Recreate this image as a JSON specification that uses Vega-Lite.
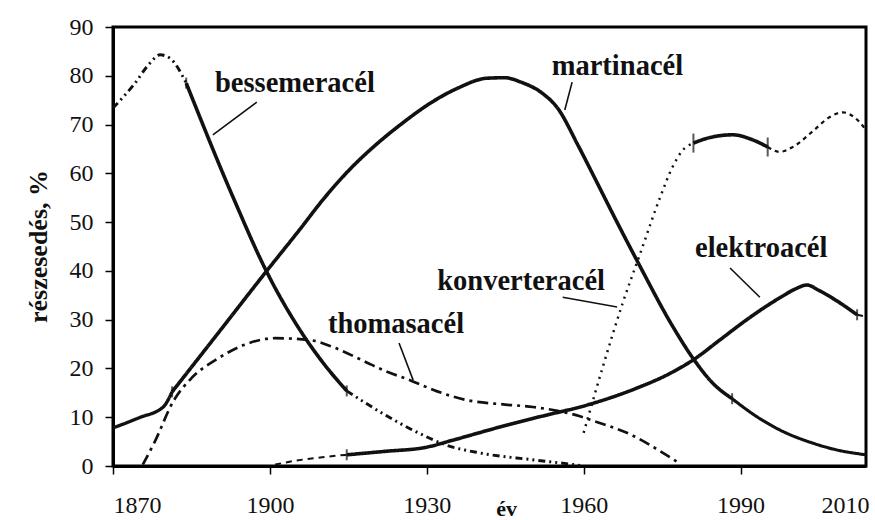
{
  "$schema": "https://vega.github.io/schema/vega-lite/v6.json",
  "autosize": "none",
  "width": 753,
  "height": 439,
  "padding": {"left": 113, "top": 27, "right": 9, "bottom": 54},
  "background": "white",
  "config": {
    "view": {"stroke": "black", "strokeWidth": 3},
    "font": "Liberation Serif",
    "axis": {"grid": false, "domainColor": "black", "domainWidth": 3, "tickColor": "black", "tickWidth": 1.5, "tickSize": 8, "labelFont": "Liberation Serif", "labelFontSize": 24, "labelColor": "#111", "titleFont": "Liberation Serif", "titleColor": "#111"}
  },
  "datasets": {
    "lines": [
      {"s": "bes1", "st": "dashdotdot", "x": 1870, "y": 73.4},
      {"s": "bes1", "st": "dashdotdot", "x": 1874, "y": 78.2},
      {"s": "bes1", "st": "dashdotdot", "x": 1877, "y": 82.5},
      {"s": "bes1", "st": "dashdotdot", "x": 1879, "y": 84.3},
      {"s": "bes1", "st": "dashdotdot", "x": 1881, "y": 83.5},
      {"s": "bes1", "st": "dashdotdot", "x": 1884, "y": 78.5},
      {"s": "bes2", "st": "thick", "x": 1884, "y": 78.5},
      {"s": "bes2", "st": "thick", "x": 1893, "y": 55},
      {"s": "bes2", "st": "thick", "x": 1899.4, "y": 39.8},
      {"s": "bes2", "st": "thick", "x": 1905.8, "y": 27.8},
      {"s": "bes2", "st": "thick", "x": 1910, "y": 21.4},
      {"s": "bes2", "st": "thick", "x": 1914.7, "y": 15.4},
      {"s": "bes3", "st": "dashdotdot", "x": 1914.7, "y": 15.4},
      {"s": "bes3", "st": "dashdotdot", "x": 1922, "y": 10.5},
      {"s": "bes3", "st": "dashdotdot", "x": 1928, "y": 7},
      {"s": "bes3", "st": "dashdotdot", "x": 1934, "y": 4.2},
      {"s": "bes3", "st": "dashdotdot", "x": 1940, "y": 2.7},
      {"s": "bes3", "st": "dashdotdot", "x": 1950, "y": 1.3},
      {"s": "bes3", "st": "dashdotdot", "x": 1958, "y": 0.3},
      {"s": "bes3", "st": "dashdotdot", "x": 1960, "y": 0},
      {"s": "mar1", "st": "thin", "x": 1870, "y": 7.8},
      {"s": "mar1", "st": "thin", "x": 1875, "y": 9.9},
      {"s": "mar1", "st": "thin", "x": 1879.6, "y": 12.1},
      {"s": "mar1", "st": "thin", "x": 1881.3, "y": 15.2},
      {"s": "mar2", "st": "thick", "x": 1881.3, "y": 15.2},
      {"s": "mar2", "st": "thick", "x": 1890, "y": 27.1},
      {"s": "mar2", "st": "thick", "x": 1899.4, "y": 40},
      {"s": "mar2", "st": "thick", "x": 1905.8, "y": 48.6},
      {"s": "mar2", "st": "thick", "x": 1910, "y": 54.4},
      {"s": "mar2", "st": "thick", "x": 1915, "y": 60.5},
      {"s": "mar2", "st": "thick", "x": 1920, "y": 65.6},
      {"s": "mar2", "st": "thick", "x": 1925, "y": 70},
      {"s": "mar2", "st": "thick", "x": 1931, "y": 74.6},
      {"s": "mar2", "st": "thick", "x": 1936, "y": 77.5},
      {"s": "mar2", "st": "thick", "x": 1941.5, "y": 79.5},
      {"s": "mar2", "st": "thick", "x": 1945, "y": 79.6},
      {"s": "mar2", "st": "thick", "x": 1948, "y": 78.7},
      {"s": "mar2", "st": "thick", "x": 1952, "y": 76.5},
      {"s": "mar2", "st": "thick", "x": 1955, "y": 73.4},
      {"s": "mar2", "st": "thick", "x": 1959, "y": 65.6},
      {"s": "mar2", "st": "thick", "x": 1962, "y": 59.3},
      {"s": "mar2", "st": "thick", "x": 1966, "y": 50.8},
      {"s": "mar2", "st": "thick", "x": 1971, "y": 40.5},
      {"s": "mar2", "st": "thick", "x": 1976.5, "y": 29.6},
      {"s": "mar2", "st": "thick", "x": 1981.3, "y": 21.5},
      {"s": "mar2", "st": "thick", "x": 1984.5, "y": 17.2},
      {"s": "mar2", "st": "thick", "x": 1988.4, "y": 13.8},
      {"s": "mar3", "st": "thin2", "x": 1988.4, "y": 13.8},
      {"s": "mar3", "st": "thin2", "x": 1993, "y": 10.2},
      {"s": "mar3", "st": "thin2", "x": 1997.5, "y": 7.4},
      {"s": "mar3", "st": "thin2", "x": 2003.8, "y": 4.7},
      {"s": "mar3", "st": "thin2", "x": 2008, "y": 3.4},
      {"s": "mar3", "st": "thin2", "x": 2014, "y": 2.3},
      {"s": "tho", "st": "dashdot", "x": 1875.7, "y": 0.3},
      {"s": "tho", "st": "dashdot", "x": 1878, "y": 5},
      {"s": "tho", "st": "dashdot", "x": 1881.5, "y": 13.2},
      {"s": "tho", "st": "dashdot", "x": 1885, "y": 18},
      {"s": "tho", "st": "dashdot", "x": 1890, "y": 22},
      {"s": "tho", "st": "dashdot", "x": 1895, "y": 24.8},
      {"s": "tho", "st": "dashdot", "x": 1901, "y": 26.2},
      {"s": "tho", "st": "dashdot", "x": 1907.7, "y": 25.8},
      {"s": "tho", "st": "dashdot", "x": 1912, "y": 24.4},
      {"s": "tho", "st": "dashdot", "x": 1918, "y": 21.5},
      {"s": "tho", "st": "dashdot", "x": 1922, "y": 19.5},
      {"s": "tho", "st": "dashdot", "x": 1926.8, "y": 17.6},
      {"s": "tho", "st": "dashdot", "x": 1932, "y": 15.3},
      {"s": "tho", "st": "dashdot", "x": 1937.7, "y": 13.5},
      {"s": "tho", "st": "dashdot", "x": 1945, "y": 12.6},
      {"s": "tho", "st": "dashdot", "x": 1950.3, "y": 12.1},
      {"s": "tho", "st": "dashdot", "x": 1955, "y": 11.3},
      {"s": "tho", "st": "dashdot", "x": 1959.3, "y": 10.2},
      {"s": "tho", "st": "dashdot", "x": 1962, "y": 9.2},
      {"s": "tho", "st": "dashdot", "x": 1968.9, "y": 6.5},
      {"s": "tho", "st": "dashdot", "x": 1975, "y": 2.8},
      {"s": "tho", "st": "dashdot", "x": 1978.4, "y": 0.5},
      {"s": "kon1", "st": "dotted", "x": 1960, "y": 6.8},
      {"s": "kon1", "st": "dotted", "x": 1961.8, "y": 13.5},
      {"s": "kon1", "st": "dotted", "x": 1964, "y": 21.5},
      {"s": "kon1", "st": "dotted", "x": 1967.5, "y": 33.5},
      {"s": "kon1", "st": "dotted", "x": 1970.8, "y": 43.5},
      {"s": "kon1", "st": "dotted", "x": 1974.6, "y": 55},
      {"s": "kon1", "st": "dotted", "x": 1977, "y": 61.3},
      {"s": "kon1", "st": "dotted", "x": 1979, "y": 64.8},
      {"s": "kon1", "st": "dotted", "x": 1981, "y": 66.2},
      {"s": "kon2", "st": "thick", "x": 1981, "y": 66.2},
      {"s": "kon2", "st": "thick", "x": 1984, "y": 67.3},
      {"s": "kon2", "st": "thick", "x": 1988.5, "y": 67.9},
      {"s": "kon2", "st": "thick", "x": 1992, "y": 67},
      {"s": "kon2", "st": "thick", "x": 1995.2, "y": 65.4},
      {"s": "kon3", "st": "dashed", "x": 1995.2, "y": 65.4},
      {"s": "kon3", "st": "dashed", "x": 1997.5, "y": 64.4},
      {"s": "kon3", "st": "dashed", "x": 2000, "y": 65.4},
      {"s": "kon3", "st": "dashed", "x": 2003.8, "y": 68.6},
      {"s": "kon3", "st": "dashed", "x": 2007, "y": 71.5},
      {"s": "kon3", "st": "dashed", "x": 2009.6, "y": 72.5},
      {"s": "kon3", "st": "dashed", "x": 2012, "y": 71.3},
      {"s": "kon3", "st": "dashed", "x": 2014, "y": 68.9},
      {"s": "ele1", "st": "dashthin", "x": 1901, "y": 0.3},
      {"s": "ele1", "st": "dashthin", "x": 1905, "y": 1.1},
      {"s": "ele1", "st": "dashthin", "x": 1910, "y": 1.8},
      {"s": "ele1", "st": "dashthin", "x": 1914.7, "y": 2.3},
      {"s": "ele2", "st": "thick", "x": 1914.7, "y": 2.3},
      {"s": "ele2", "st": "thick", "x": 1922, "y": 3},
      {"s": "ele2", "st": "thick", "x": 1929.7, "y": 3.8},
      {"s": "ele2", "st": "thick", "x": 1935, "y": 5.3},
      {"s": "ele2", "st": "thick", "x": 1944, "y": 8},
      {"s": "ele2", "st": "thick", "x": 1952, "y": 10.2},
      {"s": "ele2", "st": "thick", "x": 1961, "y": 12.6},
      {"s": "ele2", "st": "thick", "x": 1970, "y": 15.9},
      {"s": "ele2", "st": "thick", "x": 1976, "y": 18.7},
      {"s": "ele2", "st": "thick", "x": 1981.3, "y": 22},
      {"s": "ele2", "st": "thick", "x": 1986, "y": 25.8},
      {"s": "ele2", "st": "thick", "x": 1991.2, "y": 30},
      {"s": "ele2", "st": "thick", "x": 1995, "y": 32.8},
      {"s": "ele2", "st": "thick", "x": 1998, "y": 34.8},
      {"s": "ele2", "st": "thick", "x": 2000.5, "y": 36.3},
      {"s": "ele2", "st": "thick", "x": 2002.7, "y": 37.1},
      {"s": "ele2", "st": "thick", "x": 2005, "y": 36},
      {"s": "ele2", "st": "thick", "x": 2008.5, "y": 33.8},
      {"s": "ele2", "st": "thick", "x": 2012.3, "y": 31},
      {"s": "ele3", "st": "dashthin", "x": 2012.3, "y": 31},
      {"s": "ele3", "st": "dashthin", "x": 2014, "y": 30.6}
    ],
    "marks": [
      {"x": 1884, "y": 78.5, "big": "n"},
      {"x": 1914.7, "y": 15.4, "big": "n"},
      {"x": 1881.3, "y": 15.2, "big": "n"},
      {"x": 1988.4, "y": 13.8, "big": "n"},
      {"x": 1981, "y": 66.2, "big": "y"},
      {"x": 1995.2, "y": 65.4, "big": "y"},
      {"x": 1914.7, "y": 2.3, "big": "n"},
      {"x": 2012.3, "y": 31, "big": "n"}
    ],
    "leaders": [
      {"x": 1889.1, "y": 67.9, "x2": 1897.5, "y2": 74.6},
      {"x": 1957.8, "y": 78.7, "x2": 1956.4, "y2": 73.0},
      {"x": 1924.7, "y": 25.2, "x2": 1927.4, "y2": 17.6},
      {"x": 1956.0, "y": 34.6, "x2": 1966.4, "y2": 32.6},
      {"x": 1988.0, "y": 40.6, "x2": 1993.7, "y2": 34.6}
    ],
    "labels": [
      {"x": 1889.5, "y": 76.7, "t": "bessemeracél"},
      {"x": 1953.9, "y": 80.2, "t": "martinacél"},
      {"x": 1911.1, "y": 27.3, "t": "thomasacél"},
      {"x": 1932.0, "y": 36.1, "t": "konverteracél"},
      {"x": 1981.3, "y": 42.8, "t": "elektroacél"}
    ]
  },
  "encoding": {
    "x": {"type": "quantitative"},
    "y": {"type": "quantitative"}
  },
  "layer": [
    {
      "data": {"name": "lines"},
      "mark": {"type": "line", "interpolate": "monotone", "color": "#111", "strokeCap": "butt"},
      "encoding": {
        "x": {"field": "x", "type": "quantitative",
          "scale": {"domain": [1870, 2014], "nice": false, "zero": false},
          "axis": {"values": [1870, 1900, 1930, 1960, 1990, 2010], "format": "d", "labelPadding": 19,
            "tickOpacity": {"condition": {"test": "datum.value == 2010", "value": 0}, "value": 1},
            "title": "év", "titleX": 393, "titleY": 49, "titleBaseline": "alphabetic", "titleAlign": "center", "titleFontSize": 22, "titleFontWeight": "bold"}},
        "y": {"field": "y", "type": "quantitative",
          "scale": {"domain": [0, 90], "nice": false},
          "axis": {"values": [0, 10, 20, 30, 40, 50, 60, 70, 80, 90], "labelPadding": 12,
            "title": "részesedés, %", "titleX": -75, "titleY": 219, "titleAngle": -90, "titleAlign": "center", "titleBaseline": "middle", "titleFontSize": 26, "titleFontWeight": "bold"}},
        "detail": {"field": "s"},
        "strokeDash": {"field": "st", "type": "nominal", "legend": null,
          "scale": {"domain": ["thick", "thin", "thin2", "dashdotdot", "dashdot", "dotted", "dashed", "dashthin"],
            "range": [[1, 0], [1, 0], [1, 0], [7, 4, 2, 4, 2, 4], [11, 5, 3, 5], [2, 5], [4, 4], [6, 5]]}},
        "strokeWidth": {"field": "st", "type": "nominal", "legend": null,
          "scale": {"domain": ["thick", "thin", "thin2", "dashdotdot", "dashdot", "dotted", "dashed", "dashthin"],
            "range": [3.6, 2, 2.6, 2, 2, 2.2, 3.2, 2]}}
      }
    },
    {
      "data": {"name": "marks"},
      "mark": {"type": "tick", "orient": "vertical", "color": "#111", "thickness": 2},
      "encoding": {
        "x": {"field": "x", "type": "quantitative"},
        "y": {"field": "y", "type": "quantitative"},
        "size": {"field": "big", "type": "nominal", "legend": null, "scale": {"domain": ["n", "y"], "range": [11, 19]}}
      }
    },
    {
      "data": {"name": "leaders"},
      "mark": {"type": "rule", "color": "#111", "strokeWidth": 1.6},
      "encoding": {
        "x": {"field": "x", "type": "quantitative"},
        "y": {"field": "y", "type": "quantitative"},
        "x2": {"field": "x2"},
        "y2": {"field": "y2"}
      }
    },
    {
      "data": {"name": "labels"},
      "mark": {"type": "text", "align": "left", "baseline": "alphabetic", "font": "Liberation Serif", "fontWeight": "bold", "fontSize": 28.5, "color": "#111"},
      "encoding": {
        "x": {"field": "x", "type": "quantitative"},
        "y": {"field": "y", "type": "quantitative"},
        "text": {"field": "t"}
      }
    }
  ]
}
